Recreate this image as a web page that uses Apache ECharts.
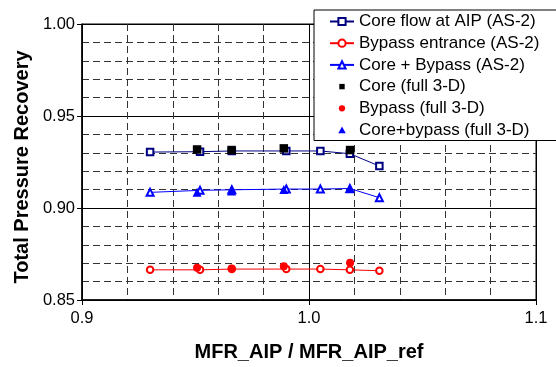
<!DOCTYPE html>
<html>
<head>
<meta charset="utf-8">
<script src="https://cdn.jsdelivr.net/npm/echarts@6/dist/echarts.min.js"></script>
<style>html,body{margin:0;padding:0;background:#fff}#c{width:556px;height:367px}</style>
</head>
<body>
<div id="c"></div>
<script>
const xAS = [0.930, 0.952, 0.966, 0.990, 1.005, 1.018, 1.031];
const coreAS = [0.9304, 0.9306, 0.9310, 0.9310, 0.9310, 0.9295, 0.9228];
const bypassAS = [0.8664, 0.8664, 0.8668, 0.8668, 0.8668, 0.8664, 0.8659];
const coreBypassAS = [0.9085, 0.9096, 0.9099, 0.9103, 0.9103, 0.9106, 0.9056];
const x3D = [0.9507, 0.9659, 0.9889, 1.0181];
const core3D = [0.9318, 0.9315, 0.9324, 0.9315];
const bypass3D = [0.8675, 0.8671, 0.8684, 0.8703];
const coreBypass3D = [0.9085, 0.9092, 0.9101, 0.9104];
const names = ['Core flow at AIP (AS-2)', 'Bypass entrance (AS-2)', 'Core + Bypass (AS-2)',
  'Core (full 3-D)', 'Bypass (full 3-D)', 'Core+bypass (full 3-D)'];
const xTicks = [0.9, 1.0, 1.1];
const yTicks = [0.85, 0.90, 0.95, 1.00];

const pair = (xs, ys) => xs.map((x, i) => [x, ys[i]]);
const FONT = 'Liberation Sans, Arial, Helvetica, sans-serif';
const dash = {color: '#333', width: 1, type: [7, 4]};

const chart = echarts.init(document.getElementById('c'), null, {renderer: 'canvas'});
chart.setOption({
  animation: false,
  backgroundColor: '#fff',
  grid: {left: 82, right: 20, top: 24, bottom: 62, show: true, borderColor: '#000', borderWidth: 1, backgroundColor: 'transparent'},
  xAxis: {
    type: 'value', min: xTicks[0], max: xTicks[xTicks.length - 1], interval: 0.1,
    name: 'MFR_AIP / MFR_AIP_ref', nameLocation: 'middle', nameGap: 42,
    nameTextStyle: {fontFamily: FONT, fontSize: 20, fontWeight: 'bold', color: '#000'},
    axisLine: {lineStyle: {color: '#000', width: 1.5}},
    axisTick: {show: true, length: 5, lineStyle: {color: '#000'}},
    axisLabel: {fontFamily: FONT, fontSize: 16.5, color: '#000', margin: 10, formatter: v => v.toFixed(1)},
    splitLine: {show: true, lineStyle: {color: '#000', width: 1}},
    minorTick: {show: false, splitNumber: 5},
    minorSplitLine: {show: true, lineStyle: dash}
  },
  yAxis: {
    type: 'value', min: yTicks[0], max: yTicks[yTicks.length - 1], interval: 0.05,
    name: 'Total Pressure Recovery', nameLocation: 'middle', nameGap: 49,
    nameTextStyle: {fontFamily: FONT, fontSize: 20, fontWeight: 'bold', color: '#000', padding: [0, 10, 0, 0]},
    axisLine: {show: true, lineStyle: {color: '#000', width: 1.5}},
    axisTick: {show: true, length: 5, lineStyle: {color: '#000'}},
    axisLabel: {fontFamily: FONT, fontSize: 16.5, color: '#000', margin: 7, formatter: v => v.toFixed(2)},
    splitLine: {show: true, lineStyle: {color: '#000', width: 1}},
    minorTick: {show: false, splitNumber: 5},
    minorSplitLine: {show: true, lineStyle: dash}
  },
  legend: {
    orient: 'vertical', left: 314, top: 10,
    backgroundColor: '#fff', borderColor: '#000', borderWidth: 1,
    padding: [3, 20, 2, 15], itemWidth: 24, itemHeight: 9, itemGap: 4.7,
    textStyle: {fontFamily: FONT, fontSize: 17, color: '#000', lineHeight: 17},
    data: [
      {name: names[0], itemStyle: {borderWidth: 1}},
      {name: names[1], itemStyle: {borderWidth: 1}},
      {name: names[2], itemStyle: {borderWidth: 1}},
      {name: names[3], icon: 'path://M0,0M10,10M2,2h6v6h-6z', itemStyle: {borderWidth: 0}},
      {name: names[4], icon: 'path://M0,0M10,10M1.5,5a3.5,3.5 0 1,0 7,0a3.5,3.5 0 1,0 -7,0z', itemStyle: {borderWidth: 0}},
      {name: names[5], icon: 'path://M0,0M10,10M5,1.2L9.2,8.6H0.8z', itemStyle: {borderWidth: 0}}
    ]
  },
  series: [
    {name: names[0], type: 'line', data: pair(xAS, coreAS), symbol: 'emptyRect', symbolSize: 6.5,
      itemStyle: {color: '#000080', borderWidth: 1}, lineStyle: {color: '#000080', width: 1}, z: 2},
    {name: names[1], type: 'line', data: pair(xAS, bypassAS), symbol: 'emptyCircle', symbolSize: 6.5,
      itemStyle: {color: '#ff0000', borderWidth: 1}, lineStyle: {color: '#ff0000', width: 1}, z: 2},
    {name: names[2], type: 'line', data: pair(xAS, coreBypassAS), symbol: 'emptyTriangle', symbolSize: 7,
      itemStyle: {color: '#0000ff', borderWidth: 1}, lineStyle: {color: '#0000ff', width: 1}, z: 2},
    {name: names[3], type: 'scatter', data: pair(x3D, core3D), symbol: 'rect', symbolSize: 8.5,
      itemStyle: {color: '#000', opacity: 1}, z: 3},
    {name: names[4], type: 'scatter', data: pair(x3D, bypass3D), symbol: 'circle', symbolSize: 8,
      itemStyle: {color: '#ff0000', opacity: 1}, z: 3},
    {name: names[5], type: 'scatter', data: pair(x3D, coreBypass3D), symbol: 'triangle', symbolSize: 9,
      itemStyle: {color: '#0000ff', opacity: 1}, z: 3}
  ]
});
</script>
</body>
</html>
